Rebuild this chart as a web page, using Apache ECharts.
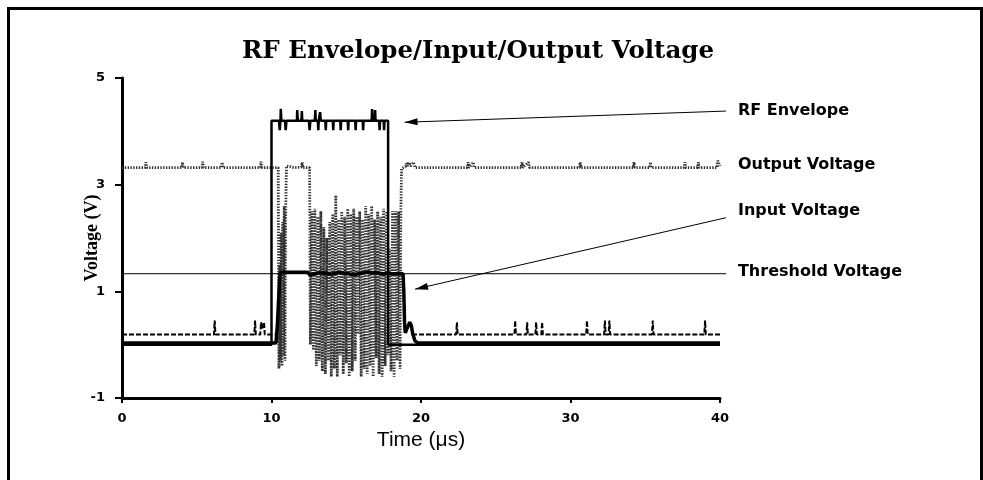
<!DOCTYPE html>
<html>
<head>
<meta charset="utf-8">
<script src="https://cdn.jsdelivr.net/npm/echarts@6/dist/echarts.min.js"></script>
<style>html,body{margin:0;padding:0;background:#fff;}#c{width:983px;height:480px;}</style>
</head>
<body>
<div id="c"></div>
<script>
// ---------------- DATA ----------------
const titleText = 'RF Envelope/Input/Output Voltage';
const xName = 'Time (\u03bcs)';
const yName = 'Voltage (V)';

// RF Envelope [time µs, volts]
const rfEnvelope = [
  [0,0],[10.0,0],[10.0,4.2],[10.5,4.2],[10.55,4.02],[10.6,4.2],[10.62,4.42],[10.66,4.2],
  [10.9,4.2],[10.95,4.02],[11.0,4.2],[11.7,4.2],[11.72,4.4],[11.76,4.2],[12.0,4.2],[12.03,4.38],
  [12.06,4.2],[12.5,4.2],[12.55,4.02],[12.6,4.2],[12.9,4.2],[12.93,4.4],[12.96,4.2],[13.1,4.2],
  [13.13,4.02],[13.16,4.2],[13.25,4.36],[13.3,4.2],[13.6,4.2],[13.63,4.02],[13.66,4.2],[14.1,4.2],
  [14.13,4.02],[14.16,4.2],[14.6,4.2],[14.63,4.02],[14.66,4.2],[15.1,4.2],[15.13,4.02],[15.16,4.2],
  [15.6,4.2],[15.63,4.02],[15.66,4.2],[16.1,4.2],[16.13,4.02],[16.16,4.2],[16.7,4.2],[16.73,4.42],
  [16.76,4.2],[16.9,4.2],[16.93,4.4],[16.96,4.2],[17.2,4.2],[17.23,4.02],[17.26,4.2],[17.5,4.2],
  [17.53,4.02],[17.56,4.2],[17.8,4.2],[17.8,0],[40,0]
];

// Output Voltage [time µs, volts]
const outputVoltage = [
  [0,3.32],[1.55,3.32],[1.6,3.42],[1.65,3.32],[4.0,3.32],[4.05,3.42],[4.1,3.32],[5.35,3.32],
  [5.4,3.43],[5.45,3.32],[6.65,3.32],[6.7,3.42],[6.75,3.32],[9.25,3.32],[9.3,3.43],[9.35,3.32],
  [10.45,3.32],[10.5,-0.45],[10.55,1.5],[10.6,-0.3],[10.65,2.1],[10.7,-0.4],[10.75,2.3],[10.8,-0.2],
  [10.85,2.6],[10.9,-0.3],[10.95,2.5],[11.0,3.35],[11.5,3.32],[12.0,3.33],[12.05,3.42],[12.1,3.32],
  [12.55,3.32],[12.6,0.0],[12.7,2.5],[12.8,-0.1],[12.9,2.55],[13.0,-0.4],[13.1,2.4],[13.2,-0.3],
  [13.3,2.5],[13.4,-0.5],[13.5,2.2],[13.6,-0.55],[13.7,2.0],[13.8,-0.3],[13.9,2.3],[14.0,-0.6],
  [14.1,2.45],[14.2,-0.45],[14.3,2.8],[14.4,-0.6],[14.5,2.35],[14.6,-0.2],[14.7,2.5],[14.8,-0.55],
  [14.9,2.4],[15.0,-0.35],[15.1,2.55],[15.2,-0.6],[15.3,2.45],[15.4,-0.5],[15.5,2.55],[15.6,-0.3],
  [15.7,2.4],[15.8,0.2],[15.9,2.5],[16.0,-0.6],[16.1,2.35],[16.2,-0.45],[16.3,2.6],[16.4,-0.55],
  [16.5,2.45],[16.6,-0.4],[16.7,2.6],[16.8,-0.6],[16.9,2.35],[17.0,-0.25],[17.1,2.5],[17.2,-0.55],
  [17.3,2.4],[17.4,-0.6],[17.5,2.55],[17.6,-0.4],[17.7,2.5],[17.8,-0.2],[17.9,1.8],[18.0,-0.5],
  [18.1,2.5],[18.2,-0.6],[18.3,2.5],[18.4,-0.3],[18.5,2.5],[18.6,-0.45],[18.65,2.5],[18.7,3.3],
  [19.0,3.35],[19.05,3.42],[19.1,3.35],[19.2,3.42],[19.3,3.35],[19.5,3.42],[19.6,3.32],[23.1,3.32],
  [23.15,3.42],[23.2,3.32],[23.5,3.42],[23.55,3.32],[26.7,3.32],[26.75,3.42],[26.8,3.32],[27.2,3.42],
  [27.25,3.32],[30.6,3.32],[30.65,3.42],[30.7,3.32],[34.2,3.32],[34.25,3.42],[34.3,3.32],[35.3,3.32],
  [35.35,3.42],[35.4,3.32],[37.6,3.32],[37.65,3.42],[37.7,3.32],[38.5,3.32],[38.55,3.42],[38.6,3.32],
  [39.8,3.32],[39.85,3.45],[40,3.35]
];

// Input Voltage [time µs, volts]
const inputVoltage = [
  [0,0.03],[10.3,0.03],[10.4,0.4],[10.55,1.3],[10.65,1.36],[12.4,1.36],[12.6,1.3],[12.8,1.33],
  [13.5,1.35],[14.0,1.32],[14.5,1.36],[15.5,1.31],[16.0,1.34],[16.5,1.36],[17.5,1.33],[18.8,1.33],
  [18.85,1.0],[18.9,0.4],[18.95,0.22],[19.05,0.2],[19.15,0.36],[19.25,0.42],[19.35,0.36],[19.45,0.2],
  [19.6,0.07],[19.8,0.03],[40,0.03]
];

// Low-level ripple line [time µs, volts]
const rippleLine = [
  [0,0.19],[6.15,0.19],[6.2,0.45],[6.25,0.19],[8.85,0.19],[8.9,0.45],[8.95,0.19],[9.25,0.19],
  [9.3,0.42],[9.4,0.3],[9.5,0.42],[9.55,0.19],[10.2,0.19],[10.3,'-'],[19.3,'-'],[19.4,0.19],
  [22.35,0.19],[22.4,0.42],[22.45,0.19],[26.25,0.19],[26.3,0.45],[26.35,0.19],[27.05,0.19],[27.1,0.42],
  [27.15,0.19],[27.65,0.19],[27.7,0.42],[27.75,0.19],[28.05,0.19],[28.1,0.42],[28.15,0.19],[31.05,0.19],
  [31.1,0.45],[31.15,0.19],[32.25,0.19],[32.3,0.45],[32.35,0.19],[32.55,0.19],[32.6,0.45],[32.65,0.19],
  [35.45,0.19],[35.5,0.45],[35.55,0.19],[38.95,0.19],[39.0,0.45],[39.05,0.19],[40,0.19]
];

// Threshold Voltage
const thresholdLevel = 1.33;
const thresholdVoltage = [[0,thresholdLevel],[40,thresholdLevel]];

// Annotations (data coordinates)
const annotLabels = ['RF Envelope','Output Voltage','Input Voltage','Threshold Voltage'];
const annotLabelV = [4.38, 3.37, 2.5, 1.36];
const annotTailV = [4.38, null, 2.38, thresholdLevel];
const annotTipT  = [18.9, null, 19.6, 40];
const annotTipV  = [4.17, null, 1.04, thresholdLevel];
const annotArrow = [true, false, true, false];
const annotTailT = 40.4;
const annotLabelT = 41.2;

// ---------------- CHART ----------------
const chart = echarts.init(document.getElementById('c'), null, {renderer:'canvas'});
const sansBold = {fontFamily:'DejaVu Sans', fontWeight:'bold', color:'#000'};

chart.setOption({
  animation:false,
  backgroundColor:'#fff',
  title:{text:titleText, left:473, top:34, textAlign:'center',
    textStyle:{fontFamily:'DejaVu Serif', fontWeight:'bold', fontSize:24.5, color:'#000'}},
  grid:{left:122, right:263, top:78, bottom:82, containLabel:false},
  xAxis:{type:'value', min:0, max:40, interval:10,
    name:xName, nameLocation:'middle', nameGap:30,
    nameTextStyle:{fontFamily:'Liberation Sans', fontSize:21, color:'#000'},
    axisLine:{onZero:false, lineStyle:{color:'#000', width:3}},
    axisTick:{show:true, length:5, lineStyle:{color:'#000', width:2}},
    axisLabel:Object.assign({fontSize:13, margin:14}, sansBold),
    splitLine:{show:false}},
  yAxis:{type:'value', min:-1, max:5, interval:2,
    name:yName, nameLocation:'middle', nameGap:21, nameRotate:90, nameMoveOverlap:false,
    nameTextStyle:{fontFamily:'Liberation Serif', fontWeight:'bold', fontSize:18, color:'#000'},
    axisLine:{show:true, lineStyle:{color:'#000', width:3}},
    axisTick:{show:true, length:7, lineStyle:{color:'#000', width:2}},
    axisLabel:Object.assign({fontSize:13, margin:17}, sansBold),
    splitLine:{show:false}},
  series:[
    {name:'Output Voltage', type:'line', data:outputVoltage, showSymbol:false, z:2,
      lineStyle:{color:'#333', width:2.8, type:[1.4,1.4]}},
    {name:'Ripple', type:'line', data:rippleLine, showSymbol:false, connectNulls:false, z:3,
      lineStyle:{color:'#000', width:2, type:[5,2]}},
    {name:'Threshold Voltage', type:'line', data:thresholdVoltage, showSymbol:false, z:3,
      lineStyle:{color:'#000', width:1}},
    {name:'RF Envelope', type:'line', data:rfEnvelope, showSymbol:false, z:4,
      lineStyle:{color:'#000', width:2.5}},
    {name:'Input Voltage', type:'line', data:inputVoltage, showSymbol:false, z:5,
      lineStyle:{color:'#000', width:3.5}}
  ]
});

function px(t, v){ return chart.convertToPixel({gridIndex:0}, [t, v]); }
const g = [];
g.push({type:'rect', shape:{x:8.5, y:8.5, width:973, height:520}, style:{fill:null, stroke:'#000', lineWidth:3}, z:100});
annotLabels.forEach((lab, i) => {
  const lp = px(annotLabelT, annotLabelV[i]);
  g.push({type:'text', x:lp[0], y:lp[1], z:100,
    style:{text:lab, fontFamily:'DejaVu Sans', fontWeight:'bold', fontSize:16, fill:'#000',
      textAlign:'left', textVerticalAlign:'middle'}});
  if (annotTailV[i] !== null) {
    const tail = px(annotTailT, annotTailV[i]);
    const tip = px(annotTipT[i], annotTipV[i]);
    g.push({type:'line', z:100, shape:{x1:tail[0], y1:tail[1], x2:tip[0], y2:tip[1]},
      style:{stroke:'#000', lineWidth:1}});
    if (annotArrow[i]) {
      const dx = tail[0]-tip[0], dy = tail[1]-tip[1];
      const L = Math.sqrt(dx*dx+dy*dy), ux = dx/L, uy = dy/L;
      const bx = tip[0]+ux*13, by = tip[1]+uy*13;
      const h = 3.5;
      g.push({type:'polygon', z:101, shape:{points:[[tip[0],tip[1]],[bx-uy*h, by+ux*h],[bx+uy*h, by-ux*h]]},
        style:{fill:'#000'}});
    }
  }
});
chart.setOption({graphic:g});
</script>
</body>
</html>
